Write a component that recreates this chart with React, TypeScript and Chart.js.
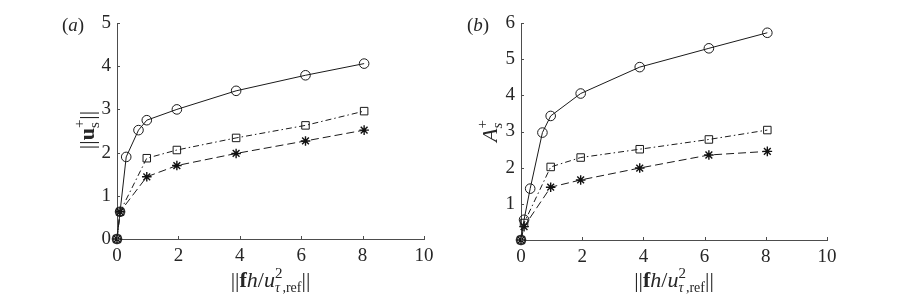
import React, { useEffect, useRef } from "react";
import { Chart, registerables } from "chart.js";

Chart.register(...registerables);

// ---- data ----
const xAll = [0, 0.1, 0.3, 0.7, 0.97, 1.95, 3.88, 6.14, 8.05];
const xSub = [0, 0.1, 0.97, 1.95, 3.88, 6.14, 8.05];
const uCircle = [0, 0.63, 1.9, 2.52, 2.75, 3.0, 3.43, 3.79, 4.06];
const uSquare = [0, 0.63, 1.87, 2.06, 2.34, 2.63, 2.96];
const uStar = [0, 0.63, 1.44, 1.7, 1.98, 2.27, 2.52];
const aCircle = [0, 0.56, 1.42, 2.97, 3.43, 4.05, 4.78, 5.3, 5.73];
const aSquare = [0, 0.47, 2.02, 2.28, 2.51, 2.78, 3.04];
const aStar = [0, 0.37, 1.46, 1.66, 1.99, 2.35, 2.45];
const xTicks = [0, 2, 4, 6, 8, 10];
const yTicksA = [0, 1, 2, 3, 4, 5];
const yTicksB = [0, 1, 2, 3, 4, 5, 6];

const SERIF = "'Liberation Serif', 'DejaVu Serif', serif";
const TXT = "#262626";
const AXIS = "#4d4d4d";

type Seg = { t: string; font: string; dy?: number; stack?: boolean };

function drawRich(ctx: CanvasRenderingContext2D, segs: Seg[], cx: number, cy: number, rotate: boolean, baseOff: number) {
  ctx.save();
  const pos: { s: Seg; x: number }[] = [];
  let x = 0, lastStart = 0, lastW = 0;
  for (const s of segs) {
    ctx.font = s.font;
    const w = ctx.measureText(s.t).width;
    if (s.stack) {
      pos.push({ s, x: lastStart });
      lastW = Math.max(lastW, w);
      x = lastStart + lastW;
    } else {
      pos.push({ s, x });
      lastStart = x;
      lastW = w;
      x += w;
    }
  }
  const total = x;
  ctx.translate(cx, cy);
  if (rotate) ctx.rotate(-Math.PI / 2);
  ctx.fillStyle = TXT;
  ctx.textAlign = "left";
  ctx.textBaseline = "alphabetic";
  for (const p of pos) {
    ctx.font = p.s.font;
    ctx.fillText(p.s.t, p.x - total / 2, baseOff + (p.s.dy || 0));
  }
  ctx.restore();
}

const F = (sz: number, style = "") => `${style} ${sz}px ${SERIF}`.trim();

function xLabelSegs(): Seg[] {
  return [
    { t: "||", font: F(22) },
    { t: "f", font: F(22, "bold") },
    { t: "h", font: F(22, "italic") },
    { t: "/", font: F(22) },
    { t: "u", font: F(22, "italic") },
    { t: "2", font: F(15), dy: -9 },
    { t: "τ", font: F(14, "italic"), dy: 5, stack: true },
    { t: ",ref", font: F(14), dy: 5 },
    { t: "||", font: F(22) },
  ];
}

function makePlugin(panel: "a" | "b", ticksY: number[]) {
  return {
    id: "decor" + panel,
    afterDraw(chart: any) {
      const ctx: CanvasRenderingContext2D = chart.ctx;
      const xs = chart.scales.x;
      const ys = chart.scales.y;
      const { left, bottom } = chart.chartArea;
      ctx.save();
      ctx.strokeStyle = AXIS;
      ctx.lineWidth = 1;
      ctx.beginPath();
      for (const v of xTicks) {
        const px = Math.round(xs.getPixelForValue(v)) + 0.5;
        ctx.moveTo(px, bottom);
        ctx.lineTo(px, bottom - 3);
      }
      for (const v of ticksY) {
        const py = Math.round(ys.getPixelForValue(v)) + 0.5;
        ctx.moveTo(left, py);
        ctx.lineTo(left + 3, py);
      }
      ctx.stroke();
      ctx.restore();

      const xc = (xs.left + xs.right) / 2;
      drawRich(ctx, xLabelSegs(), xc, 287, false, 0);

      if (panel === "a") {
        drawRich(
          ctx,
          [
            { t: "||", font: F(22) },
            { t: "u", font: F(22, "bold") },
            { t: "+", font: F(15), dy: -10 },
            { t: "s", font: F(15), dy: 5, stack: true },
            { t: "||", font: F(22) },
          ],
          left - 31,
          130,
          true,
          8
        );
        drawRich(
          ctx,
          [
            { t: "(", font: F(19) },
            { t: "a", font: F(19, "italic") },
            { t: ")", font: F(19) },
          ],
          73,
          31,
          false,
          0
        );
      } else {
        drawRich(
          ctx,
          [
            { t: "A", font: F(22, "italic") },
            { t: "+", font: F(15), dy: -10 },
            { t: "s", font: F(15, "italic"), dy: 5, stack: true },
          ],
          left - 32,
          131,
          true,
          8
        );
        drawRich(
          ctx,
          [
            { t: "(", font: F(19) },
            { t: "b", font: F(19, "italic") },
            { t: ")", font: F(19) },
          ],
          22,
          31,
          false,
          0
        );
      }
    },
  };
}

function pts(xs: number[], ys: number[]) {
  return xs.map((x, i) => ({ x, y: ys[i] }));
}

function makeConfig(panel: "a" | "b") {
  const isA = panel === "a";
  const yMax = isA ? 5 : 6;
  const ticksY = isA ? yTicksA : yTicksB;
  const c = isA ? uCircle : aCircle;
  const s = isA ? uSquare : aSquare;
  const st = isA ? uStar : aStar;
  const common = {
    borderColor: "#1a1a1a",
    backgroundColor: "rgba(0,0,0,0)",
    borderWidth: 1,
    pointBorderWidth: 1,
    showLine: true,
    clip: false,
    tension: 0,
  };
  return {
    type: "scatter",
    data: {
      datasets: [
        { ...common, data: pts(xAll, c), pointStyle: "circle", pointRadius: 4.8, pointBorderColor: "#1a1a1a" },
        { ...common, data: pts(xSub, s), pointStyle: "rect", pointRadius: 5.3, borderDash: [6, 3, 1.5, 3], pointBorderColor: "#1a1a1a" },
        { ...common, data: pts(xSub, st), pointStyle: "star", pointRadius: 4.8, borderDash: [8, 4], pointBorderWidth: 1.4, pointBorderColor: "#111" },
      ],
    },
    options: {
      animation: false,
      responsive: false,
      maintainAspectRatio: false,
      events: [],
      layout: { padding: { left: 0, right: isA ? 32 : 86, top: 23, bottom: 0 } },
      plugins: { legend: { display: false }, tooltip: { enabled: false } },
      scales: {
        x: {
          type: "linear",
          min: 0,
          max: 10,
          afterBuildTicks: (sc: any) => { sc.ticks = xTicks.map((v) => ({ value: v })); },
          afterFit: (sc: any) => { sc.height = isA ? 57 : 56; },
          grid: { display: false, drawTicks: false },
          border: { display: true, color: AXIS, width: 1 },
          ticks: { color: TXT, font: { family: SERIF, size: 19 }, padding: 6, maxRotation: 0, autoSkip: false },
        },
        y: {
          type: "linear",
          min: 0,
          max: yMax,
          afterBuildTicks: (sc: any) => { sc.ticks = ticksY.map((v) => ({ value: v })); },
          afterFit: (sc: any) => { sc.width = isA ? 117 : 65; },
          grid: { display: false, drawTicks: false },
          border: { display: true, color: AXIS, width: 1 },
          ticks: {
            color: TXT,
            font: { family: SERIF, size: 19 },
            padding: 6,
            autoSkip: false,
            callback: (v: any) => (!isA && v === 0 ? "" : String(v)),
          },
        },
      },
    },
    plugins: [makePlugin(panel, ticksY)],
  };
}

function Panel({ panel, left, width }: { panel: "a" | "b"; left: number; width: number }) {
  const ref = useRef<HTMLCanvasElement | null>(null);
  useEffect(() => {
    if (!ref.current) return;
    const chart = new Chart(ref.current, makeConfig(panel) as any);
    return () => chart.destroy();
  }, [panel]);
  return (
    <canvas
      ref={ref}
      width={width}
      height={296}
      style={{ position: "absolute", left, top: 0, width, height: 296 }}
    />
  );
}

export default function App() {
  return (
    <div style={{ position: "absolute", left: 0, top: 0, width: 913, height: 296, background: "#fff" }}>
      <Panel panel="a" left={0} width={456} />
      <Panel panel="b" left={456} width={457} />
    </div>
  );
}
